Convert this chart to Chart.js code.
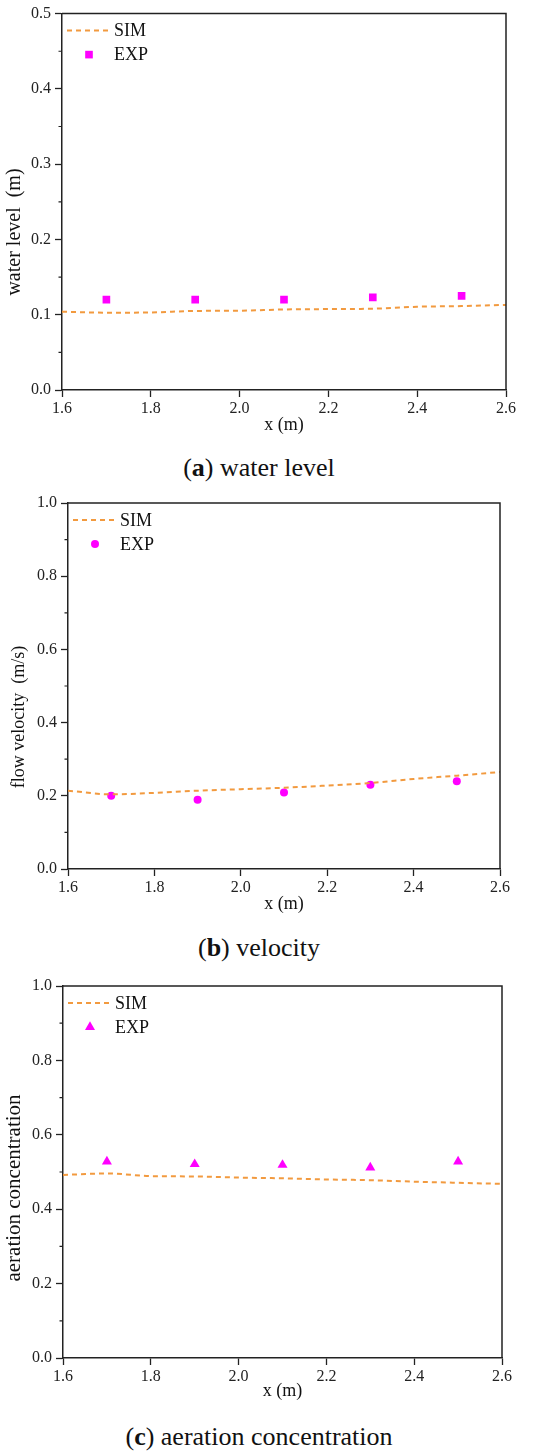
<!DOCTYPE html>
<html>
<head>
<meta charset="utf-8">
<script src="https://cdn.jsdelivr.net/npm/chart.js@4.4.1/dist/chart.umd.min.js"></script>
<style>
  html, body { margin: 0; padding: 0; background: #fff; }
  body { position: relative; width: 550px; height: 1456px; overflow: hidden; }
  .panel { position: absolute; left: 0; width: 550px; }
  .caption {
    position: absolute; left: 0; width: 518px; text-align: center;
    font-family: 'Liberation Serif', serif; font-size: 26px; color: #111;
    line-height: 30px;
  }
</style>
</head>
<body>
<div class="panel" style="top:0;height:440px"><canvas id="chartLevel"></canvas></div>
<div class="caption" style="top:453px">(<b>a</b>) water level</div>

<div class="panel" style="top:480px;height:440px"><canvas id="chartVelocity"></canvas></div>
<div class="caption" style="top:933px">(<b>b</b>) velocity</div>

<div class="panel" style="top:960px;height:450px"><canvas id="chartAeration"></canvas></div>
<div class="caption" style="top:1422px">(<b>c</b>) aeration concentration</div>

<script>
// simulated curve (SIM) sampled along x
const simX = [1.6, 1.7, 1.8, 1.9, 2.0, 2.1, 2.2, 2.3, 2.4, 2.5, 2.6];
const simWaterLevel = [0.104, 0.1027, 0.103, 0.105, 0.1053, 0.107, 0.1075, 0.108, 0.1106, 0.1115, 0.113];
const simVelocity = [0.214, 0.204, 0.208, 0.214, 0.218, 0.222, 0.228, 0.235, 0.246, 0.255, 0.265];
const simAeration = [0.492, 0.496, 0.489, 0.488, 0.485, 0.483, 0.480, 0.478, 0.474, 0.471, 0.468];

// measurements (EXP)
const expX = [1.7, 1.9, 2.1, 2.3, 2.5];
const expWaterLevel = [0.120, 0.120, 0.120, 0.123, 0.125];
const expVelocity = [0.200, 0.189, 0.209, 0.230, 0.240];
const expAeration = [0.528, 0.521, 0.519, 0.512, 0.528];

const xTicks = [1.6, 1.8, 2.0, 2.2, 2.4, 2.6];
const levelTicks = [0.0, 0.1, 0.2, 0.3, 0.4, 0.5];
const unitTicks = [0.0, 0.2, 0.4, 0.6, 0.8, 1.0];

const SERIF = "'Liberation Serif', 'Times New Roman', serif";
const INK = '#222';
const ORANGE = '#F29A3F';
const MAGENTA = '#FF00FF';

function toPoints(xs, ys) {
    return xs.map((x, i) => ({ x: x, y: ys[i] }));
}

// frame, minor ticks, y title and the in-plot legend
const framePlugin = {
    id: 'frame',
    afterDraw(chart, args, opts) {
        const { ctx, chartArea: a, scales } = chart;
        ctx.save();
        ctx.strokeStyle = INK;
        ctx.lineWidth = 1.5;
        ctx.beginPath();
        ctx.moveTo(a.left, a.top); ctx.lineTo(a.right, a.top); ctx.lineTo(a.right, a.bottom);
        ctx.stroke();

        const y = scales.y;
        const ticks = y.ticks.map(t => t.value);
        ctx.lineWidth = 1.2;
        ctx.beginPath();
        for (let i = 0; i < ticks.length - 1; i++) {
            const py = y.getPixelForValue((ticks[i] + ticks[i + 1]) / 2);
            ctx.moveTo(a.left, py); ctx.lineTo(a.left - 3.5, py);
        }
        ctx.stroke();

        // y axis title
        ctx.save();
        ctx.translate(opts.titleX, opts.titleY);
        ctx.rotate(-Math.PI / 2);
        ctx.fillStyle = '#111';
        ctx.font = opts.titleSize + 'px ' + SERIF;
        ctx.textAlign = 'center';
        ctx.textBaseline = 'middle';
        ctx.fillText(opts.title, 0, 0);
        ctx.restore();

        // legend
        const sim = chart.data.datasets[0];
        const exp = chart.data.datasets[1];
        const ly1 = a.top + 17, ly2 = a.top + 41;
        ctx.strokeStyle = sim.borderColor;
        ctx.lineWidth = sim.borderWidth;
        ctx.setLineDash(sim.borderDash);
        ctx.beginPath();
        ctx.moveTo(a.left + 5, ly1); ctx.lineTo(a.left + 47, ly1);
        ctx.stroke();
        ctx.setLineDash([]);
        ctx.fillStyle = exp.backgroundColor;
        Chart.helpers.drawPoint(ctx, { pointStyle: exp.pointStyle, radius: exp.pointRadius, rotation: 0, borderWidth: 0 }, a.left + 27, ly2);
        ctx.fillStyle = '#111';
        ctx.font = '18px ' + SERIF;
        ctx.textBaseline = 'middle';
        ctx.textAlign = 'left';
        ctx.fillText(sim.label, a.left + 52, ly1 + 1);
        ctx.fillText(exp.label, a.left + 52, ly2 + 1);
        ctx.restore();
    }
};

function makeChart(id, box, sim, exp, yTicks, yTitle, expStyle) {
    const ctx = document.getElementById(id).getContext('2d');
    return new Chart(ctx, {
        type: 'scatter',
        data: {
            datasets: [{
                label: 'SIM',
                data: toPoints(simX, sim),
                showLine: true,
                borderColor: ORANGE,
                borderWidth: 2,
                borderDash: [5, 4],
                pointRadius: 0,
                cubicInterpolationMode: 'monotone',
                fill: false
            }, {
                label: 'EXP',
                data: toPoints(expX, exp),
                showLine: false,
                backgroundColor: MAGENTA,
                borderWidth: 0,
                pointStyle: expStyle.style,
                pointRadius: expStyle.radius
            }]
        },
        options: {
            responsive: true,
            maintainAspectRatio: false,
            animation: false,
            layout: { padding: { top: box.top, right: box.right, left: 0, bottom: 0 } },
            plugins: {
                legend: { display: false },
                tooltip: { enabled: false },
                frame: { title: yTitle.text, titleSize: yTitle.size, titleX: yTitle.x, titleY: yTitle.y }
            },
            scales: {
                x: {
                    type: 'linear',
                    min: xTicks[0],
                    max: xTicks[xTicks.length - 1],
                    afterBuildTicks: s => { s.ticks = xTicks.map(v => ({ value: v })); },
                    afterFit: s => { s.height = box.xHeight; },
                    grid: { drawOnChartArea: false, tickLength: 7, tickColor: INK, tickWidth: 1.3 },
                    border: { color: INK, width: 1.5 },
                    ticks: {
                        color: INK, padding: 2, maxRotation: 0,
                        font: { family: SERIF, size: 16 },
                        callback: v => v.toFixed(1)
                    },
                    title: {
                        display: true, text: 'x (m)', color: '#111',
                        font: { family: SERIF, size: 18 },
                        padding: { top: 0, bottom: box.xTitlePad }
                    }
                },
                y: {
                    type: 'linear',
                    min: yTicks[0],
                    max: yTicks[yTicks.length - 1],
                    afterBuildTicks: s => { s.ticks = yTicks.map(v => ({ value: v })); },
                    afterFit: s => { s.width = box.left; },
                    grid: { drawOnChartArea: false, tickLength: 7, tickColor: INK, tickWidth: 1.3 },
                    border: { color: INK, width: 1.5 },
                    ticks: {
                        color: INK, padding: 4,
                        font: { family: SERIF, size: 16 },
                        callback: v => v.toFixed(1)
                    },
                    title: { display: false }
                }
            }
        },
        plugins: [framePlugin]
    });
}

makeChart('chartLevel',
    { top: 13, right: 44, left: 62, xHeight: 50, xTitlePad: 4 },
    simWaterLevel, expWaterLevel, levelTicks,
    { text: 'water level  (m)', size: 20, x: 15, y: 232 },
    { style: 'rect', radius: 5.4 });

makeChart('chartVelocity',
    { top: 23, right: 50, left: 68, xHeight: 51, xTitlePad: 5 },
    simVelocity, expVelocity, unitTicks,
    { text: 'flow velocity  (m/s)', size: 18, x: 19, y: 237 },
    { style: 'circle', radius: 4 });

makeChart('chartAeration',
    { top: 26, right: 48, left: 63, xHeight: 52, xTitlePad: 8 },
    simAeration, expAeration, unitTicks,
    { text: 'aeration concentration', size: 21, x: 14, y: 228 },
    { style: 'triangle', radius: 5.8 });
</script>
</body>
</html>
